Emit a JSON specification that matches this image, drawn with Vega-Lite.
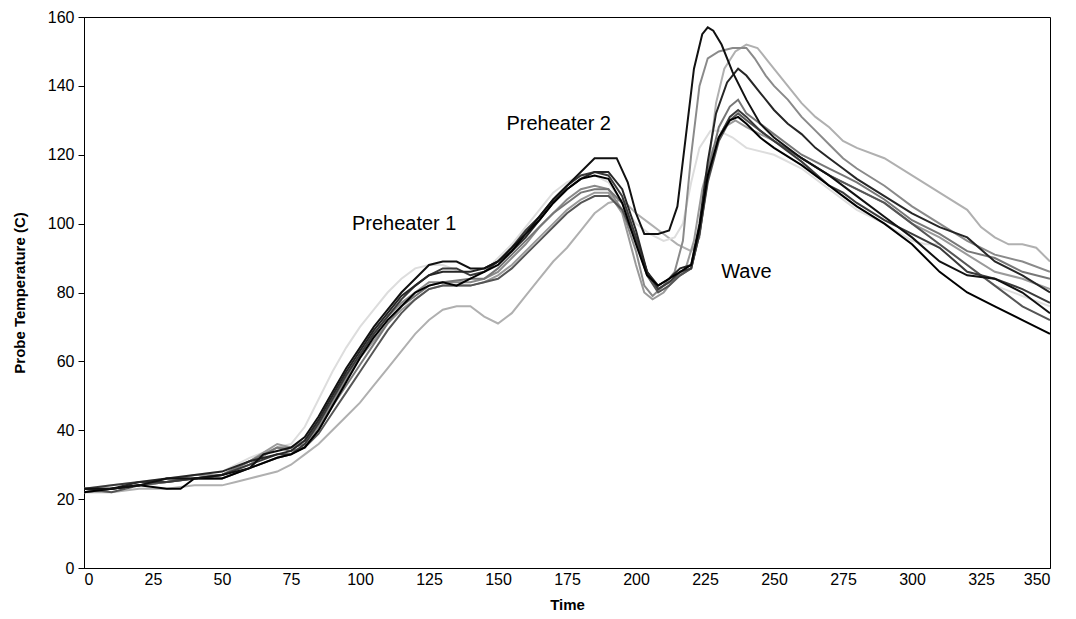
{
  "$schema": "https://vega.github.io/schema/vega-lite/v6.json",
  "width": 966,
  "height": 551,
  "autosize": {"type": "none"},
  "padding": {"left": 84, "top": 17, "right": 26, "bottom": 51},
  "background": "white",
  "config": {
    "view": {"stroke": "#000", "strokeWidth": 1},
    "font": "Liberation Sans",
    "axis": {"grid": false, "domainColor": "#000", "tickColor": "#000", "labelColor": "#000", "titleColor": "#000", "labelFont": "Liberation Sans", "titleFont": "Liberation Sans", "labelFontSize": 16, "titleFontSize": 15, "titleFontWeight": "bold"}
  },
  "layer": [
    {
      "data": {"values": [
{"s":"s10","t":0,"v":22},{"s":"s10","t":10,"v":22},{"s":"s10","t":20,"v":23},{"s":"s10","t":30,"v":23},{"s":"s10","t":40,"v":24},{"s":"s10","t":50,"v":24},{"s":"s10","t":55,"v":25},{"s":"s10","t":60,"v":26},{"s":"s10","t":65,"v":27},{"s":"s10","t":70,"v":28},{"s":"s10","t":75,"v":30},{"s":"s10","t":80,"v":33},{"s":"s10","t":85,"v":36},{"s":"s10","t":90,"v":40},{"s":"s10","t":95,"v":44},{"s":"s10","t":100,"v":48},{"s":"s10","t":105,"v":53},{"s":"s10","t":110,"v":58},{"s":"s10","t":115,"v":63},{"s":"s10","t":120,"v":68},{"s":"s10","t":125,"v":72},{"s":"s10","t":130,"v":75},{"s":"s10","t":135,"v":76},{"s":"s10","t":140,"v":76},{"s":"s10","t":145,"v":73},{"s":"s10","t":150,"v":71},{"s":"s10","t":155,"v":74},{"s":"s10","t":160,"v":79},{"s":"s10","t":165,"v":84},{"s":"s10","t":170,"v":89},{"s":"s10","t":175,"v":93},{"s":"s10","t":180,"v":98},{"s":"s10","t":185,"v":103},{"s":"s10","t":190,"v":106},{"s":"s10","t":195,"v":107},{"s":"s10","t":200,"v":103},{"s":"s10","t":205,"v":100},{"s":"s10","t":210,"v":97},{"s":"s10","t":215,"v":94},{"s":"s10","t":220,"v":92},{"s":"s10","t":223,"v":96},{"s":"s10","t":226,"v":115},{"s":"s10","t":229,"v":135},{"s":"s10","t":232,"v":145},{"s":"s10","t":236,"v":150},{"s":"s10","t":240,"v":152},{"s":"s10","t":244,"v":151},{"s":"s10","t":248,"v":147},{"s":"s10","t":252,"v":143},{"s":"s10","t":256,"v":139},{"s":"s10","t":260,"v":135},{"s":"s10","t":265,"v":131},{"s":"s10","t":270,"v":128},{"s":"s10","t":275,"v":124},{"s":"s10","t":280,"v":122},{"s":"s10","t":290,"v":119},{"s":"s10","t":300,"v":114},{"s":"s10","t":310,"v":109},{"s":"s10","t":320,"v":104},{"s":"s10","t":325,"v":99},{"s":"s10","t":330,"v":96},{"s":"s10","t":335,"v":94},{"s":"s10","t":340,"v":94},{"s":"s10","t":345,"v":93},{"s":"s10","t":350,"v":89},
{"s":"s07","t":0,"v":23},{"s":"s07","t":10,"v":24},{"s":"s07","t":20,"v":25},{"s":"s07","t":30,"v":26},{"s":"s07","t":40,"v":27},{"s":"s07","t":50,"v":28},{"s":"s07","t":60,"v":32},{"s":"s07","t":70,"v":35},{"s":"s07","t":75,"v":36},{"s":"s07","t":80,"v":41},{"s":"s07","t":85,"v":49},{"s":"s07","t":90,"v":57},{"s":"s07","t":95,"v":64},{"s":"s07","t":100,"v":70},{"s":"s07","t":105,"v":75},{"s":"s07","t":110,"v":80},{"s":"s07","t":115,"v":84},{"s":"s07","t":120,"v":87},{"s":"s07","t":125,"v":88},{"s":"s07","t":130,"v":88},{"s":"s07","t":140,"v":85},{"s":"s07","t":145,"v":86},{"s":"s07","t":150,"v":90},{"s":"s07","t":155,"v":94},{"s":"s07","t":160,"v":99},{"s":"s07","t":165,"v":104},{"s":"s07","t":170,"v":109},{"s":"s07","t":175,"v":112},{"s":"s07","t":180,"v":114},{"s":"s07","t":185,"v":114},{"s":"s07","t":190,"v":112},{"s":"s07","t":195,"v":106},{"s":"s07","t":200,"v":100},{"s":"s07","t":205,"v":97},{"s":"s07","t":210,"v":95},{"s":"s07","t":214,"v":96},{"s":"s07","t":217,"v":100},{"s":"s07","t":220,"v":112},{"s":"s07","t":223,"v":122},{"s":"s07","t":227,"v":127},{"s":"s07","t":230,"v":127},{"s":"s07","t":235,"v":125},{"s":"s07","t":240,"v":122},{"s":"s07","t":250,"v":120},{"s":"s07","t":260,"v":116},{"s":"s07","t":270,"v":110},{"s":"s07","t":280,"v":104},{"s":"s07","t":290,"v":100},{"s":"s07","t":300,"v":95},{"s":"s07","t":305,"v":94},{"s":"s07","t":310,"v":94},{"s":"s07","t":320,"v":88},{"s":"s07","t":330,"v":82},{"s":"s07","t":340,"v":79},{"s":"s07","t":350,"v":76},
{"s":"s08","t":0,"v":22},{"s":"s08","t":10,"v":23},{"s":"s08","t":20,"v":24},{"s":"s08","t":30,"v":25},{"s":"s08","t":40,"v":27},{"s":"s08","t":50,"v":27},{"s":"s08","t":60,"v":31},{"s":"s08","t":70,"v":36},{"s":"s08","t":75,"v":35},{"s":"s08","t":80,"v":37},{"s":"s08","t":85,"v":42},{"s":"s08","t":90,"v":48},{"s":"s08","t":95,"v":55},{"s":"s08","t":100,"v":61},{"s":"s08","t":105,"v":66},{"s":"s08","t":110,"v":71},{"s":"s08","t":115,"v":75},{"s":"s08","t":120,"v":78},{"s":"s08","t":125,"v":81},{"s":"s08","t":130,"v":82},{"s":"s08","t":140,"v":82},{"s":"s08","t":145,"v":83},{"s":"s08","t":150,"v":85},{"s":"s08","t":155,"v":88},{"s":"s08","t":160,"v":92},{"s":"s08","t":165,"v":96},{"s":"s08","t":170,"v":100},{"s":"s08","t":175,"v":104},{"s":"s08","t":180,"v":107},{"s":"s08","t":185,"v":109},{"s":"s08","t":190,"v":109},{"s":"s08","t":195,"v":103},{"s":"s08","t":200,"v":88},{"s":"s08","t":203,"v":80},{"s":"s08","t":206,"v":78},{"s":"s08","t":210,"v":80},{"s":"s08","t":214,"v":84},{"s":"s08","t":218,"v":87},{"s":"s08","t":221,"v":95},{"s":"s08","t":224,"v":110},{"s":"s08","t":228,"v":122},{"s":"s08","t":232,"v":128},{"s":"s08","t":236,"v":130},{"s":"s08","t":240,"v":128},{"s":"s08","t":245,"v":126},{"s":"s08","t":250,"v":124},{"s":"s08","t":260,"v":119},{"s":"s08","t":270,"v":114},{"s":"s08","t":280,"v":110},{"s":"s08","t":290,"v":106},{"s":"s08","t":300,"v":100},{"s":"s08","t":310,"v":96},{"s":"s08","t":320,"v":91},{"s":"s08","t":330,"v":86},{"s":"s08","t":340,"v":84},{"s":"s08","t":350,"v":81},
{"s":"s02","t":0,"v":22},{"s":"s02","t":10,"v":23},{"s":"s02","t":20,"v":24},{"s":"s02","t":30,"v":25},{"s":"s02","t":40,"v":26},{"s":"s02","t":50,"v":27},{"s":"s02","t":60,"v":30},{"s":"s02","t":70,"v":35},{"s":"s02","t":75,"v":35},{"s":"s02","t":80,"v":36},{"s":"s02","t":85,"v":41},{"s":"s02","t":90,"v":48},{"s":"s02","t":95,"v":55},{"s":"s02","t":100,"v":62},{"s":"s02","t":105,"v":68},{"s":"s02","t":110,"v":73},{"s":"s02","t":115,"v":77},{"s":"s02","t":120,"v":80},{"s":"s02","t":125,"v":83},{"s":"s02","t":130,"v":83},{"s":"s02","t":140,"v":83},{"s":"s02","t":145,"v":84},{"s":"s02","t":150,"v":86},{"s":"s02","t":155,"v":90},{"s":"s02","t":160,"v":94},{"s":"s02","t":165,"v":99},{"s":"s02","t":170,"v":103},{"s":"s02","t":175,"v":107},{"s":"s02","t":180,"v":110},{"s":"s02","t":185,"v":111},{"s":"s02","t":190,"v":110},{"s":"s02","t":195,"v":104},{"s":"s02","t":200,"v":92},{"s":"s02","t":203,"v":82},{"s":"s02","t":206,"v":79},{"s":"s02","t":210,"v":82},{"s":"s02","t":214,"v":86},{"s":"s02","t":217,"v":95},{"s":"s02","t":220,"v":120},{"s":"s02","t":223,"v":140},{"s":"s02","t":226,"v":148},{"s":"s02","t":230,"v":150},{"s":"s02","t":235,"v":151},{"s":"s02","t":240,"v":151},{"s":"s02","t":243,"v":148},{"s":"s02","t":247,"v":143},{"s":"s02","t":250,"v":140},{"s":"s02","t":255,"v":136},{"s":"s02","t":260,"v":131},{"s":"s02","t":265,"v":127},{"s":"s02","t":270,"v":123},{"s":"s02","t":275,"v":119},{"s":"s02","t":280,"v":116},{"s":"s02","t":290,"v":111},{"s":"s02","t":300,"v":105},{"s":"s02","t":310,"v":100},{"s":"s02","t":320,"v":95},{"s":"s02","t":330,"v":91},{"s":"s02","t":340,"v":89},{"s":"s02","t":350,"v":86},
{"s":"s04","t":0,"v":22},{"s":"s04","t":10,"v":23},{"s":"s04","t":20,"v":24},{"s":"s04","t":30,"v":26},{"s":"s04","t":40,"v":26},{"s":"s04","t":50,"v":27},{"s":"s04","t":60,"v":31},{"s":"s04","t":70,"v":35},{"s":"s04","t":75,"v":34},{"s":"s04","t":80,"v":35},{"s":"s04","t":85,"v":40},{"s":"s04","t":90,"v":47},{"s":"s04","t":95,"v":53},{"s":"s04","t":100,"v":59},{"s":"s04","t":105,"v":65},{"s":"s04","t":110,"v":71},{"s":"s04","t":115,"v":76},{"s":"s04","t":120,"v":79},{"s":"s04","t":125,"v":82},{"s":"s04","t":130,"v":83},{"s":"s04","t":140,"v":84},{"s":"s04","t":145,"v":84},{"s":"s04","t":150,"v":87},{"s":"s04","t":155,"v":91},{"s":"s04","t":160,"v":95},{"s":"s04","t":165,"v":99},{"s":"s04","t":170,"v":103},{"s":"s04","t":175,"v":106},{"s":"s04","t":180,"v":109},{"s":"s04","t":185,"v":110},{"s":"s04","t":190,"v":110},{"s":"s04","t":195,"v":106},{"s":"s04","t":200,"v":96},{"s":"s04","t":204,"v":86},{"s":"s04","t":208,"v":81},{"s":"s04","t":212,"v":83},{"s":"s04","t":216,"v":85},{"s":"s04","t":220,"v":87},{"s":"s04","t":223,"v":98},{"s":"s04","t":226,"v":115},{"s":"s04","t":230,"v":128},{"s":"s04","t":234,"v":134},{"s":"s04","t":237,"v":136},{"s":"s04","t":240,"v":132},{"s":"s04","t":245,"v":129},{"s":"s04","t":250,"v":126},{"s":"s04","t":260,"v":120},{"s":"s04","t":270,"v":116},{"s":"s04","t":275,"v":114},{"s":"s04","t":280,"v":112},{"s":"s04","t":290,"v":107},{"s":"s04","t":300,"v":101},{"s":"s04","t":310,"v":97},{"s":"s04","t":320,"v":92},{"s":"s04","t":330,"v":90},{"s":"s04","t":340,"v":86},{"s":"s04","t":350,"v":84},
{"s":"s09","t":0,"v":23},{"s":"s09","t":10,"v":22},{"s":"s09","t":20,"v":24},{"s":"s09","t":30,"v":25},{"s":"s09","t":40,"v":26},{"s":"s09","t":50,"v":26},{"s":"s09","t":60,"v":29},{"s":"s09","t":70,"v":32},{"s":"s09","t":75,"v":33},{"s":"s09","t":80,"v":35},{"s":"s09","t":85,"v":39},{"s":"s09","t":90,"v":45},{"s":"s09","t":95,"v":51},{"s":"s09","t":100,"v":57},{"s":"s09","t":105,"v":63},{"s":"s09","t":110,"v":69},{"s":"s09","t":115,"v":74},{"s":"s09","t":120,"v":78},{"s":"s09","t":125,"v":81},{"s":"s09","t":130,"v":82},{"s":"s09","t":140,"v":82},{"s":"s09","t":145,"v":83},{"s":"s09","t":150,"v":84},{"s":"s09","t":155,"v":87},{"s":"s09","t":160,"v":91},{"s":"s09","t":165,"v":95},{"s":"s09","t":170,"v":99},{"s":"s09","t":175,"v":103},{"s":"s09","t":180,"v":106},{"s":"s09","t":185,"v":108},{"s":"s09","t":190,"v":108},{"s":"s09","t":195,"v":104},{"s":"s09","t":200,"v":95},{"s":"s09","t":204,"v":85},{"s":"s09","t":208,"v":80},{"s":"s09","t":212,"v":82},{"s":"s09","t":216,"v":85},{"s":"s09","t":220,"v":87},{"s":"s09","t":223,"v":97},{"s":"s09","t":226,"v":112},{"s":"s09","t":230,"v":124},{"s":"s09","t":234,"v":130},{"s":"s09","t":237,"v":132},{"s":"s09","t":240,"v":130},{"s":"s09","t":245,"v":127},{"s":"s09","t":250,"v":124},{"s":"s09","t":260,"v":119},{"s":"s09","t":270,"v":114},{"s":"s09","t":280,"v":110},{"s":"s09","t":290,"v":106},{"s":"s09","t":300,"v":100},{"s":"s09","t":310,"v":94},{"s":"s09","t":320,"v":88},{"s":"s09","t":330,"v":82},{"s":"s09","t":340,"v":76},{"s":"s09","t":350,"v":72},
{"s":"s05","t":0,"v":23},{"s":"s05","t":10,"v":24},{"s":"s05","t":20,"v":25},{"s":"s05","t":30,"v":25},{"s":"s05","t":40,"v":26},{"s":"s05","t":50,"v":27},{"s":"s05","t":60,"v":30},{"s":"s05","t":70,"v":33},{"s":"s05","t":75,"v":33},{"s":"s05","t":80,"v":36},{"s":"s05","t":85,"v":42},{"s":"s05","t":90,"v":49},{"s":"s05","t":95,"v":56},{"s":"s05","t":100,"v":62},{"s":"s05","t":105,"v":68},{"s":"s05","t":110,"v":73},{"s":"s05","t":115,"v":78},{"s":"s05","t":120,"v":82},{"s":"s05","t":125,"v":85},{"s":"s05","t":130,"v":87},{"s":"s05","t":135,"v":87},{"s":"s05","t":140,"v":85},{"s":"s05","t":145,"v":86},{"s":"s05","t":150,"v":89},{"s":"s05","t":155,"v":93},{"s":"s05","t":160,"v":98},{"s":"s05","t":165,"v":102},{"s":"s05","t":170,"v":107},{"s":"s05","t":175,"v":111},{"s":"s05","t":180,"v":114},{"s":"s05","t":185,"v":115},{"s":"s05","t":190,"v":114},{"s":"s05","t":195,"v":108},{"s":"s05","t":200,"v":96},{"s":"s05","t":204,"v":86},{"s":"s05","t":208,"v":81},{"s":"s05","t":212,"v":83},{"s":"s05","t":216,"v":86},{"s":"s05","t":220,"v":87},{"s":"s05","t":223,"v":97},{"s":"s05","t":226,"v":113},{"s":"s05","t":230,"v":125},{"s":"s05","t":234,"v":131},{"s":"s05","t":237,"v":133},{"s":"s05","t":240,"v":131},{"s":"s05","t":245,"v":127},{"s":"s05","t":250,"v":124},{"s":"s05","t":260,"v":118},{"s":"s05","t":270,"v":111},{"s":"s05","t":275,"v":109},{"s":"s05","t":280,"v":106},{"s":"s05","t":290,"v":101},{"s":"s05","t":300,"v":97},{"s":"s05","t":310,"v":93},{"s":"s05","t":320,"v":86},{"s":"s05","t":330,"v":84},{"s":"s05","t":340,"v":81},{"s":"s05","t":350,"v":77},
{"s":"s03","t":0,"v":23},{"s":"s03","t":10,"v":23},{"s":"s03","t":20,"v":25},{"s":"s03","t":30,"v":26},{"s":"s03","t":40,"v":27},{"s":"s03","t":50,"v":28},{"s":"s03","t":60,"v":31},{"s":"s03","t":70,"v":33},{"s":"s03","t":75,"v":34},{"s":"s03","t":80,"v":37},{"s":"s03","t":85,"v":43},{"s":"s03","t":90,"v":50},{"s":"s03","t":95,"v":57},{"s":"s03","t":100,"v":63},{"s":"s03","t":105,"v":69},{"s":"s03","t":110,"v":74},{"s":"s03","t":115,"v":79},{"s":"s03","t":120,"v":82},{"s":"s03","t":125,"v":85},{"s":"s03","t":130,"v":86},{"s":"s03","t":140,"v":86},{"s":"s03","t":145,"v":87},{"s":"s03","t":150,"v":89},{"s":"s03","t":155,"v":92},{"s":"s03","t":160,"v":96},{"s":"s03","t":165,"v":101},{"s":"s03","t":170,"v":106},{"s":"s03","t":175,"v":110},{"s":"s03","t":180,"v":113},{"s":"s03","t":185,"v":115},{"s":"s03","t":190,"v":115},{"s":"s03","t":195,"v":110},{"s":"s03","t":200,"v":98},{"s":"s03","t":204,"v":86},{"s":"s03","t":208,"v":82},{"s":"s03","t":212,"v":84},{"s":"s03","t":216,"v":87},{"s":"s03","t":220,"v":88},{"s":"s03","t":223,"v":100},{"s":"s03","t":226,"v":118},{"s":"s03","t":229,"v":132},{"s":"s03","t":233,"v":141},{"s":"s03","t":237,"v":145},{"s":"s03","t":240,"v":143},{"s":"s03","t":245,"v":138},{"s":"s03","t":250,"v":133},{"s":"s03","t":255,"v":129},{"s":"s03","t":260,"v":126},{"s":"s03","t":265,"v":122},{"s":"s03","t":270,"v":119},{"s":"s03","t":275,"v":116},{"s":"s03","t":280,"v":113},{"s":"s03","t":290,"v":108},{"s":"s03","t":300,"v":103},{"s":"s03","t":310,"v":99},{"s":"s03","t":320,"v":96},{"s":"s03","t":330,"v":89},{"s":"s03","t":340,"v":85},{"s":"s03","t":350,"v":80},
{"s":"s06","t":0,"v":22},{"s":"s06","t":10,"v":23},{"s":"s06","t":20,"v":24},{"s":"s06","t":30,"v":23},{"s":"s06","t":35,"v":23},{"s":"s06","t":40,"v":26},{"s":"s06","t":50,"v":26},{"s":"s06","t":60,"v":29},{"s":"s06","t":70,"v":32},{"s":"s06","t":75,"v":33},{"s":"s06","t":80,"v":35},{"s":"s06","t":85,"v":40},{"s":"s06","t":90,"v":47},{"s":"s06","t":95,"v":54},{"s":"s06","t":100,"v":61},{"s":"s06","t":105,"v":67},{"s":"s06","t":110,"v":72},{"s":"s06","t":115,"v":76},{"s":"s06","t":120,"v":80},{"s":"s06","t":125,"v":82},{"s":"s06","t":130,"v":83},{"s":"s06","t":135,"v":82},{"s":"s06","t":140,"v":84},{"s":"s06","t":145,"v":86},{"s":"s06","t":150,"v":88},{"s":"s06","t":155,"v":92},{"s":"s06","t":160,"v":97},{"s":"s06","t":165,"v":101},{"s":"s06","t":170,"v":106},{"s":"s06","t":175,"v":110},{"s":"s06","t":180,"v":113},{"s":"s06","t":185,"v":114},{"s":"s06","t":190,"v":113},{"s":"s06","t":195,"v":106},{"s":"s06","t":200,"v":94},{"s":"s06","t":204,"v":85},{"s":"s06","t":208,"v":82},{"s":"s06","t":212,"v":84},{"s":"s06","t":216,"v":86},{"s":"s06","t":220,"v":88},{"s":"s06","t":223,"v":99},{"s":"s06","t":226,"v":114},{"s":"s06","t":230,"v":125},{"s":"s06","t":234,"v":130},{"s":"s06","t":237,"v":131},{"s":"s06","t":240,"v":129},{"s":"s06","t":245,"v":125},{"s":"s06","t":250,"v":122},{"s":"s06","t":260,"v":117},{"s":"s06","t":270,"v":111},{"s":"s06","t":275,"v":108},{"s":"s06","t":280,"v":105},{"s":"s06","t":290,"v":100},{"s":"s06","t":300,"v":94},{"s":"s06","t":310,"v":86},{"s":"s06","t":320,"v":80},{"s":"s06","t":330,"v":76},{"s":"s06","t":340,"v":72},{"s":"s06","t":350,"v":68},
{"s":"s01","t":0,"v":23},{"s":"s01","t":10,"v":23},{"s":"s01","t":20,"v":24},{"s":"s01","t":30,"v":26},{"s":"s01","t":40,"v":26},{"s":"s01","t":50,"v":27},{"s":"s01","t":60,"v":29},{"s":"s01","t":65,"v":33},{"s":"s01","t":70,"v":34},{"s":"s01","t":75,"v":35},{"s":"s01","t":80,"v":38},{"s":"s01","t":85,"v":44},{"s":"s01","t":90,"v":51},{"s":"s01","t":95,"v":58},{"s":"s01","t":100,"v":64},{"s":"s01","t":105,"v":70},{"s":"s01","t":110,"v":75},{"s":"s01","t":115,"v":80},{"s":"s01","t":120,"v":84},{"s":"s01","t":125,"v":88},{"s":"s01","t":130,"v":89},{"s":"s01","t":135,"v":89},{"s":"s01","t":140,"v":87},{"s":"s01","t":145,"v":87},{"s":"s01","t":150,"v":89},{"s":"s01","t":155,"v":93},{"s":"s01","t":160,"v":97},{"s":"s01","t":165,"v":102},{"s":"s01","t":170,"v":107},{"s":"s01","t":175,"v":111},{"s":"s01","t":180,"v":115},{"s":"s01","t":185,"v":119},{"s":"s01","t":190,"v":119},{"s":"s01","t":193,"v":119},{"s":"s01","t":197,"v":112},{"s":"s01","t":200,"v":103},{"s":"s01","t":203,"v":97},{"s":"s01","t":208,"v":97},{"s":"s01","t":212,"v":98},{"s":"s01","t":215,"v":105},{"s":"s01","t":218,"v":125},{"s":"s01","t":221,"v":145},{"s":"s01","t":224,"v":155},{"s":"s01","t":226,"v":157},{"s":"s01","t":228,"v":156},{"s":"s01","t":231,"v":152},{"s":"s01","t":235,"v":144},{"s":"s01","t":240,"v":136},{"s":"s01","t":245,"v":129},{"s":"s01","t":250,"v":125},{"s":"s01","t":260,"v":119},{"s":"s01","t":270,"v":114},{"s":"s01","t":280,"v":108},{"s":"s01","t":290,"v":102},{"s":"s01","t":300,"v":96},{"s":"s01","t":310,"v":89},{"s":"s01","t":320,"v":85},{"s":"s01","t":330,"v":84},{"s":"s01","t":340,"v":80},{"s":"s01","t":350,"v":74}
      ]},
      "mark": {"type": "line", "strokeWidth": 2, "clip": true},
      "encoding": {
        "x": {"field": "t", "type": "quantitative", "title": "Time", "scale": {"domain": [0, 350], "nice": false},
              "axis": {"values": [0,25,50,75,100,125,150,175,200,225,250,275,300,325,350], "ticks": false, "labelPadding": 3, "titlePadding": 10}},
        "y": {"field": "v", "type": "quantitative", "title": "Probe Temperature (C)", "scale": {"domain": [0, 160], "nice": false},
              "axis": {"values": [0,20,40,60,80,100,120,140,160], "tickSize": 6, "labelPadding": 4, "titlePadding": 20}},
        "color": {"field": "s", "type": "nominal", "legend": null,
                  "scale": {"domain": ["s01","s02","s03","s04","s05","s06","s07","s08","s09","s10"],
                            "range": ["#111111","#8a8a8a","#262626","#777777","#3a3a3a","#000000","#dddddd","#9a9a9a","#555555","#b0b0b0"]}},
        "order": {"field": "t", "type": "quantitative"}
      }
    },
    {
      "data": {"values": [
        {"t": 116, "v": 100, "label": "Preheater 1"},
        {"t": 172, "v": 129, "label": "Preheater 2"},
        {"t": 240, "v": 86, "label": "Wave"}
      ]},
      "mark": {"type": "text", "fontSize": 20, "font": "Liberation Sans", "color": "#000", "align": "center", "baseline": "middle"},
      "encoding": {
        "x": {"field": "t", "type": "quantitative"},
        "y": {"field": "v", "type": "quantitative"},
        "text": {"field": "label", "type": "nominal"}
      }
    }
  ]
}
